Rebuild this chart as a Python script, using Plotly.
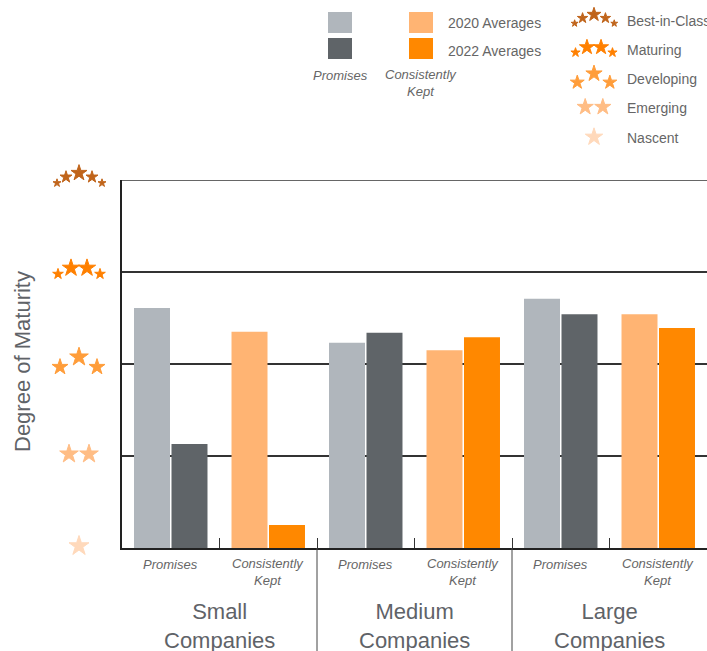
import plotly.graph_objects as go

# ---------------- data ----------------
groups = ["Small<br>Companies", "Medium<br>Companies", "Large<br>Companies"]
measures = ["Promises", "Consistently<br>Kept"]
categories = ["Small|P", "Small|CK", "Medium|P", "Medium|CK", "Large|P", "Large|CK"]
values_2020 = [3.61, 3.35, 3.23, 3.15, 3.71, 3.54]
values_2022 = [2.13, 1.25, 3.34, 3.29, 3.54, 3.39]
levels = ["Nascent", "Emerging", "Developing", "Maturing", "Best-in-Class"]
level_values = [1, 2, 3, 4, 5]
series_names = ["2020 Averages", "2022 Averages"]

# ---------------- styles ----------------
W, H = 707, 651
PLOT_L, PLOT_R, PLOT_T, PLOT_B = 122, 707, 180, 548
FONT = "Liberation Sans, Arial, Helvetica, sans-serif"
TXT = "#5f6368"
TXT_S = "#666666"
GRID = "#333333"
C_P20, C_P22 = "#b0b6bc", "#5f6468"
C_K20, C_K22 = "#ffb473", "#ff8800"
colors_2020 = [C_P20, C_K20] * 3
colors_2022 = [C_P22, C_K22] * 3
level_colors = ["#ffd9bb", "#ffbd85", "#ff9d3a", "#ff8000", "#c0641a"]
# star icon templates (dx, dy, size) per level
icons = [
    [(0, 0, 16)],
    [(-10, 0, 15), (10, 0, 15)],
    [(-19, 5, 13), (0, -5, 15), (18, 5, 13)],
    [(-21, 4, 9), (-8, -2, 14), (8, -2, 14), (21, 4, 9)],
    [(-22, 5, 7), (-13, -1, 10), (0, -5, 13), (13, -1, 10), (23, 5, 7)],
]

px_per_level = (PLOT_B - PLOT_T) / (level_values[-1] - level_values[0])


def level_px(v):
    return PLOT_B - (v - level_values[0]) * px_per_level


fig = go.Figure()

fig.add_trace(go.Bar(x=categories, y=values_2020, base=0, name=series_names[0],
                     marker=dict(color=colors_2020, line=dict(width=0)), showlegend=False))
fig.add_trace(go.Bar(x=categories, y=values_2022, base=0, name=series_names[1],
                     marker=dict(color=colors_2022, line=dict(width=0)), showlegend=False))


def add_icon(i, cx, cy, scale):
    xs, ys, ss = [], [], []
    for dx, dy, s in icons[i]:
        xs.append(cx + dx * scale)
        ys.append(cy + dy * scale)
        ss.append(s * scale - 1)
    fig.add_trace(go.Scatter(x=xs, y=ys, xaxis="x2", yaxis="y2", mode="markers",
                             marker=dict(symbol="star", size=ss, color=level_colors[i], opacity=1,
                                         line=dict(width=1, color=level_colors[i])),
                             cliponaxis=False, showlegend=False, hoverinfo="skip"))


for i, lv in enumerate(level_values):
    add_icon(i, 79, level_px(lv) - 2, 1.0)

legend_y = [137, 107, 78, 49, 19]
label_y = [138, 108, 79, 50, 21]
for i in range(len(levels)):
    add_icon(i, 594, legend_y[i], 0.88)

annotations = []
for i, name in enumerate(levels):
    annotations.append(dict(x=625, y=label_y[i], xref="x2", yref="y2", text=name,
                            showarrow=False, xanchor="left", yanchor="middle",
                            font=dict(size=14, color=TXT_S, family=FONT)))

# bar legend boxes
shapes = []
for (x0, y0, col) in [(328, 12, C_P20), (328, 38, C_P22), (409, 12, C_K20), (409, 38, C_K22)]:
    shapes.append(dict(type="rect", xref="x2", yref="y2", x0=x0, x1=x0 + 24, y0=y0, y1=y0 + 21,
                       fillcolor=col, line=dict(width=0), layer="above"))
annotations.append(dict(x=446, y=23, xref="x2", yref="y2", text=series_names[0], showarrow=False,
                        xanchor="left", yanchor="middle", font=dict(size=14, color=TXT_S, family=FONT)))
annotations.append(dict(x=446, y=51, xref="x2", yref="y2", text=series_names[1], showarrow=False,
                        xanchor="left", yanchor="middle", font=dict(size=14, color=TXT_S, family=FONT)))
annotations.append(dict(x=340, y=75, xref="x2", yref="y2", text="<i>" + measures[0] + "</i>", showarrow=False,
                        xanchor="center", yanchor="middle", font=dict(size=13, color=TXT_S, family=FONT)))
annotations.append(dict(x=421, y=83, xref="x2", yref="y2", text="<i>" + measures[1] + "</i>", showarrow=False,
                        xanchor="center", yanchor="middle", font=dict(size=13, color=TXT_S, family=FONT)))

# category labels under the bars
for j, cat in enumerate(categories):
    m = measures[j % 2]
    annotations.append(dict(x=cat, y=564 if j % 2 == 0 else 572, xref="x", yref="y2",
                            text="<i>" + m + "</i>", showarrow=False, xanchor="center", yanchor="middle",
                            font=dict(size=13, color=TXT_S, family=FONT)))
for g, name in enumerate(groups):
    annotations.append(dict(x=2 * g + 0.5, y=626, xref="x", yref="y2", text=name, showarrow=False,
                            xanchor="center", yanchor="middle",
                            font=dict(size=22, color=TXT, family=FONT)))

# y-axis title
annotations.append(dict(x=22, y=362, xref="x2", yref="y2", text="Degree of Maturity", showarrow=False,
                        textangle=-90, xanchor="center", yanchor="middle",
                        font=dict(size=22, color=TXT, family=FONT)))

# top grid line (upper end of the range)
shapes.append(dict(type="line", xref="paper", yref="y", x0=PLOT_L / W, x1=1,
                   y0=level_values[-1], y1=level_values[-1], line=dict(color=GRID, width=1.5)))

# group dividers below the axis
for b in [1.5, 3.5]:
    shapes.append(dict(type="line", xref="x", yref="y2", x0=b, x1=b, y0=PLOT_B, y1=H,
                       line=dict(color="#444444", width=1)))

fig.update_layout(
    width=W, height=H,
    margin=dict(l=0, r=0, t=0, b=0),
    paper_bgcolor="white", plot_bgcolor="rgba(0,0,0,0)",
    barmode="group", bargap=0.231, bargroupgap=0.04,
    xaxis=dict(domain=[PLOT_L / W, PLOT_R / W], type="category", range=[-0.5, 5.5],
               showticklabels=False, showgrid=False, showline=True, linecolor="#222222", linewidth=1.5,
               ticks="inside", tickson="boundaries", ticklen=10, tickcolor="#333333", tickwidth=1,
               zeroline=False, fixedrange=True, anchor="y"),
    yaxis=dict(domain=[1 - PLOT_B / H, 1 - PLOT_T / H], range=[level_values[0], level_values[-1]],
               tickvals=level_values, showticklabels=False, showgrid=True, gridcolor=GRID,
               gridwidth=1.5, showline=True, linecolor="#222222", linewidth=1.5, zeroline=False, ticks="",
               anchor="x", fixedrange=True),
    xaxis2=dict(domain=[0, 1], range=[0, W], anchor="y2", visible=False, fixedrange=True),
    yaxis2=dict(domain=[0, 1], range=[H, 0], anchor="x2", visible=False, fixedrange=True),
    annotations=annotations,
    shapes=shapes,
)

fig.write_html("out.html")
